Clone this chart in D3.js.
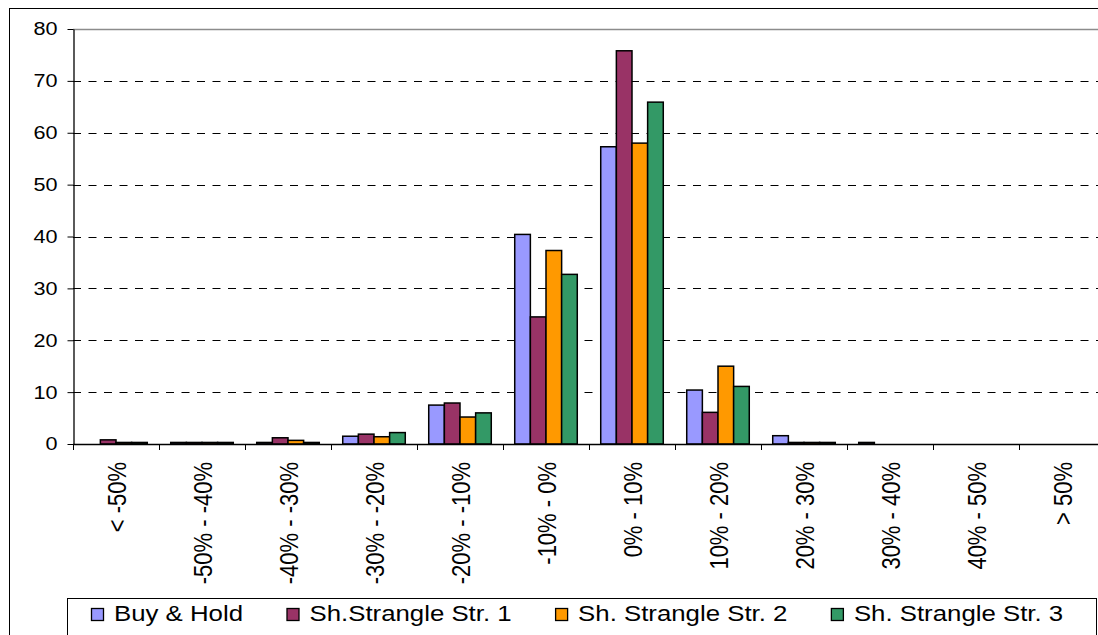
<!DOCTYPE html>
<html>
<head>
<meta charset="utf-8">
<script src="https://cdn.jsdelivr.net/npm/d3@7"></script>
<style>
  html, body { margin: 0; padding: 0; background: #fff; }
  svg { display: block; }
  text { font-family: "Liberation Sans", Arial, sans-serif; fill: #000; }
</style>
</head>
<body>
<svg id="chart" width="1098" height="635"></svg>
<script>
// Return buckets
const categories = ["< -50%", "-50% - -40%", "-40% - -30%", "-30% - -20%", "-20% - -10%",
  "-10% - 0%", "0% - 10%", "10% - 20%", "20% - 30%", "30% - 40%", "40% - 50%", "> 50%"];

// Series names and frequencies (%) per bucket
const seriesNames = ["Buy & Hold", "Sh.Strangle Str. 1", "Sh. Strangle Str. 2", "Sh. Strangle Str. 3"];
const buyHold   = [0,   0.3, 0.3, 1.5, 7.5, 40.4, 57.3, 10.4, 1.6, 0.3, 0, 0];
const strangle1 = [0.8, 0.3, 1.2, 1.9, 7.9, 24.5, 75.8, 6.1,  0.3, 0,   0, 0];
const strangle2 = [0.3, 0.3, 0.7, 1.4, 5.2, 37.3, 58.0, 15.0, 0.3, 0,   0, 0];
const strangle3 = [0.3, 0.3, 0.3, 2.2, 6.0, 32.7, 65.9, 11.1, 0.3, 0,   0, 0];
const seriesColors = ["#9999FF", "#993366", "#FF9900", "#339966"];
const yTicks = [0, 10, 20, 30, 40, 50, 60, 70, 80];

const seriesValues = [buyHold, strangle1, strangle2, strangle3];

const svg = d3.select("#chart");
const plot = { left: 73, top: 29, bottom: 444, catWidth: 86 };
plot.right = plot.left + plot.catWidth * categories.length;

// Text in this chart is drawn slightly wide
const tickStretch = 1.17, legendStretch = 1.2;

// Chart frame
svg.append("rect")
  .attr("x", 9.5).attr("y", 8.5)
  .attr("width", 1200).attr("height", 700)
  .attr("fill", "#fff").attr("stroke", "#000").attr("stroke-width", 1);

const x = d3.scaleBand().domain(categories).range([plot.left, plot.right]).padding(0);
// Gap between groups is 150% of a bar width
const barW = plot.catWidth / (seriesNames.length + 1.5);
const xs = d3.scaleBand().domain(d3.range(seriesNames.length))
  .range([0, barW * seriesNames.length]);
const groupOffset = (plot.catWidth - barW * seriesNames.length) / 2;
const y = d3.scaleLinear().domain([0, 80]).range([plot.bottom, plot.top]);

// Gridlines
svg.append("g").selectAll("line")
  .data(yTicks.filter(t => t > 0 && t < 80))
  .join("line")
  .attr("x1", plot.left).attr("x2", plot.right)
  .attr("y1", d => Math.round(y(d)) + 0.5).attr("y2", d => Math.round(y(d)) + 0.5)
  .attr("stroke", "#000").attr("stroke-width", 1)
  .attr("stroke-dasharray", "8,7.5");

// Plot area top border
svg.append("line")
  .attr("x1", plot.left).attr("x2", plot.right)
  .attr("y1", Math.round(y(80)) + 0.5).attr("y2", Math.round(y(80)) + 0.5)
  .attr("stroke", "#8c8c8c").attr("stroke-width", 1.5);

// Bars
const bars = [];
categories.forEach((c, i) => {
  seriesValues.forEach((vals, s) => {
    if (vals[i] > 0) bars.push({ cat: c, s, v: vals[i] });
  });
});
svg.append("g").selectAll("rect")
  .data(bars)
  .join("rect")
  .attr("x", d => x(d.cat) + groupOffset + xs(d.s))
  .attr("y", d => y(d.v))
  .attr("width", xs.bandwidth())
  .attr("height", d => y(0) - y(d.v))
  .attr("fill", d => seriesColors[d.s])
  .attr("stroke", "#000").attr("stroke-width", 1.5);

// Y axis
const yAxis = svg.append("g")
  .attr("transform", `translate(${plot.left + 0.5},0)`)
  .call(d3.axisLeft(y).tickValues(yTicks).tickSize(6).tickPadding(10).tickSizeOuter(0));
yAxis.select(".domain").attr("stroke", "#000").attr("stroke-width", 1.3);
yAxis.selectAll(".tick line").attr("stroke", "#000").attr("stroke-width", 1);
yAxis.selectAll(".tick text")
  .attr("x", null)
  .attr("transform", `translate(-16,0) scale(${tickStretch},1)`)
  .attr("font-size", 18.5)
  .attr("font-family", "Liberation Sans, Arial, sans-serif");

// X axis line and boundary ticks
svg.append("line")
  .attr("x1", plot.left).attr("x2", plot.right)
  .attr("y1", plot.bottom + 0.5).attr("y2", plot.bottom + 0.5)
  .attr("stroke", "#000").attr("stroke-width", 1.3);
svg.append("g").selectAll("line")
  .data(categories.map(c => x(c)).concat([plot.right]))
  .join("line")
  .attr("x1", d => d + 0.5).attr("x2", d => d + 0.5)
  .attr("y1", plot.bottom).attr("y2", plot.bottom + 6)
  .attr("stroke", "#000").attr("stroke-width", 1);

// Category labels, rotated
const xAxis = svg.append("g")
  .attr("transform", `translate(0,${plot.bottom})`)
  .call(d3.axisBottom(x).tickSize(0).tickPadding(0));
xAxis.select(".domain").remove();
xAxis.selectAll(".tick text")
  .attr("y", null).attr("dy", null)
  .attr("transform", `translate(1,18) rotate(-90) scale(1,${tickStretch})`)
  .attr("text-anchor", "end")
  .attr("dominant-baseline", "central")
  .attr("font-size", 22)
  .attr("font-family", "Liberation Sans, Arial, sans-serif");

// Legend
const legend = svg.append("g");
legend.append("rect")
  .attr("x", 67.5).attr("y", 598.5)
  .attr("width", 1029).attr("height", 60)
  .attr("fill", "#fff").attr("stroke", "#000").attr("stroke-width", 1);
let lx = 91;
seriesNames.forEach((name, i) => {
  legend.append("rect")
    .attr("x", lx + 0.5).attr("y", 608.5)
    .attr("width", 12).attr("height", 12)
    .attr("fill", seriesColors[i]).attr("stroke", "#000").attr("stroke-width", 1.3);
  const t = legend.append("text")
    .attr("transform", `translate(${lx + 23},621) scale(${legendStretch},1)`)
    .attr("font-size", 21.5)
    .text(name);
  const w = t.node().getComputedTextLength() * legendStretch;
  lx = lx + 23 + w + 43.5;
});
</script>
</body>
</html>
